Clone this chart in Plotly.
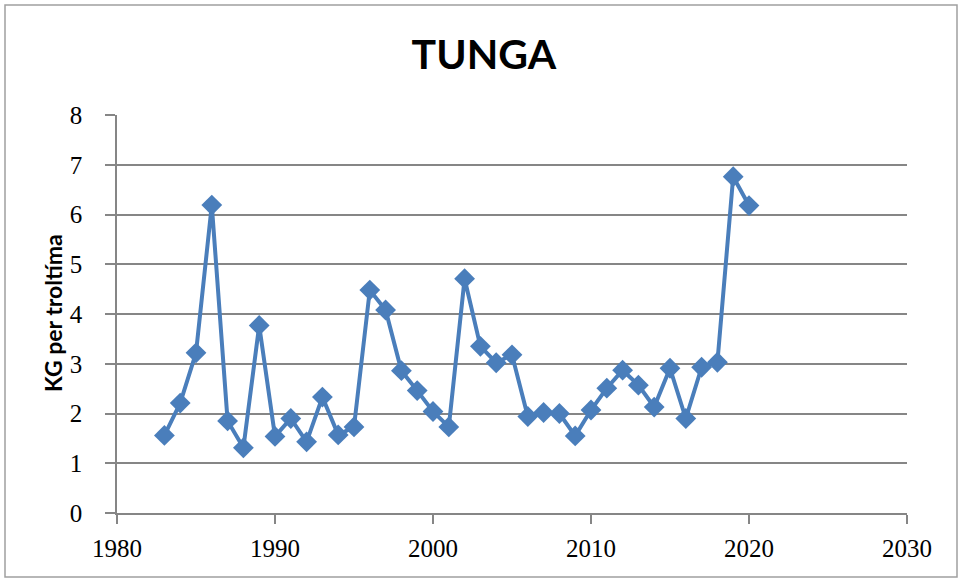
import plotly.graph_objects as go

years = list(range(1983, 2021))
kg_per_hour = [1.56, 2.21, 3.22, 6.19, 1.85, 1.31, 3.77, 1.54, 1.90, 1.43,
               2.33, 1.57, 1.73, 4.48, 4.08, 2.86, 2.46, 2.04, 1.73, 4.71,
               3.35, 3.02, 3.18, 1.94, 2.02, 2.00, 1.55, 2.07, 2.51, 2.87,
               2.57, 2.13, 2.91, 1.90, 2.93, 3.03, 6.76, 6.18]

title_text = "TUNGA"
y_title = "KG per troltíma"
x_ticks = [1980, 1990, 2000, 2010, 2020, 2030]
y_ticks = [0, 1, 2, 3, 4, 5, 6, 7, 8]

blue = "#4A7EBB"
grid = "#868686"

fig = go.Figure()
fig.add_trace(go.Scatter(
    x=years, y=kg_per_hour, mode="lines+markers",
    line=dict(color=blue, width=4),
    marker=dict(symbol="diamond", size=16, color=blue),
    showlegend=False, hoverinfo="x+y",
))

fig.update_layout(
    width=962, height=581,
    margin=dict(l=117, r=55, t=115, b=68, autoexpand=False),
    paper_bgcolor="white", plot_bgcolor="white",
    title=dict(text=f"<b>{title_text}</b>", x=0.503, xanchor="center",
               y=1 - 55 / 581, yanchor="middle",
               font=dict(family="Lato", size=41, color="black")),
    xaxis=dict(range=[1980, 2030], tickvals=x_ticks, showgrid=False,
               showline=True, linecolor=grid, linewidth=1.5,
               ticks="outside", ticklen=9, tickcolor=grid, tickwidth=1.5,
               ticklabelstandoff=3, automargin=False,
               tickfont=dict(family="Liberation Serif", size=25, color="black"),
               zeroline=False, fixedrange=True),
    yaxis=dict(range=[0, 8], tickvals=y_ticks, showgrid=True,
               gridcolor=grid, gridwidth=1.5,
               showline=True, linecolor=grid, linewidth=1.5,
               ticks="outside", ticklen=10, tickcolor=grid, tickwidth=1.5,
               ticklabelstandoff=18, automargin=False,
               tickfont=dict(family="Liberation Serif", size=25, color="black"),
               zeroline=False, fixedrange=True),
    annotations=[dict(text=f"<b>{y_title}</b>", textangle=-90,
                      xref="paper", yref="paper",
                      x=(53 - 117) / 790, y=(513 - 313) / 398,
                      xanchor="center", yanchor="middle", showarrow=False,
                      font=dict(family="Lato", size=23, color="black"))],
    shapes=[dict(type="rect", xref="paper", yref="paper",
                 x0=(5 - 117) / 790, x1=(957 - 117) / 790,
                 y0=(513 - 577) / 398, y1=(513 - 5) / 398,
                 line=dict(color="#A0A0A0", width=1.5), layer="below")],
)

fig.write_html("out.html", config={"displayModeBar": False},
               post_script="document.body.style.margin='0';")
